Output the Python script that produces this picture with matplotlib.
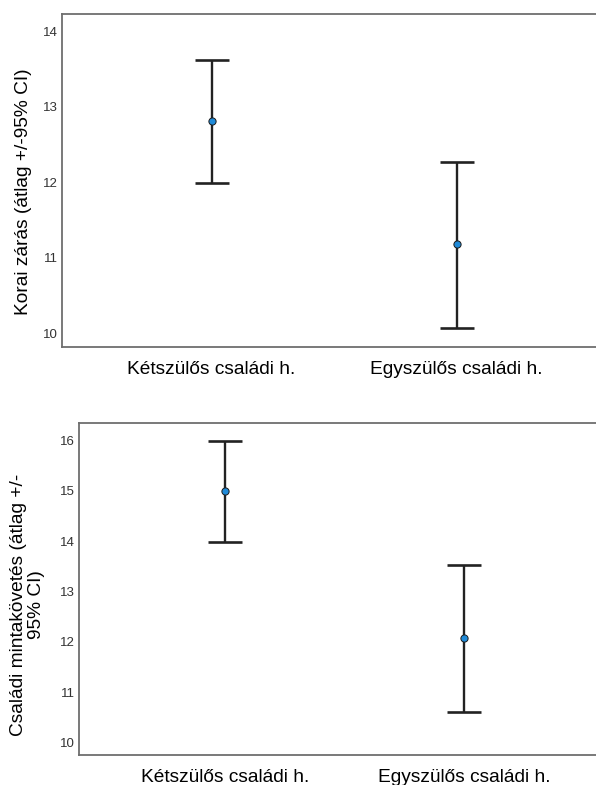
import matplotlib.pyplot as plt

plt.rcParams['font.family'] = ['Liberation Sans', 'DejaVu Sans']

categories = ['Kétszülős családi h.', 'Egyszülős családi h.']

# top panel: Korai zárás
korai_mean = [12.81, 11.18]
korai_low = [11.99, 10.07]
korai_high = [13.62, 12.27]

# bottom panel: Családi mintakövetés
minta_mean = [14.99, 12.08]
minta_low = [13.98, 10.61]
minta_high = [16.00, 13.53]


def draw_panel(ax, mean, low, high, ylim, yticks, ylabel):
    xs = [1, 2]
    yerr = [[m - l for m, l in zip(mean, low)], [h - m for m, h in zip(mean, high)]]
    ax.errorbar(xs, mean, yerr=yerr, fmt='none', ecolor='#222222',
                elinewidth=1.7, capsize=12, capthick=1.9)
    ax.plot(xs, mean, 'o', markersize=5.2, markerfacecolor='#1f8ad8',
            markeredgecolor='#1a1a1a', markeredgewidth=0.7, zorder=5)
    ax.set_xlim(0.39, 2.61)
    ax.set_ylim(*ylim)
    ax.set_yticks(yticks)
    ax.set_yticklabels([str(t) for t in yticks], fontsize=9.5, color='#333333')
    ax.set_xticks(xs)
    ax.set_xticklabels(categories, fontsize=13.8, color='black')
    ax.tick_params(axis='both', length=0)
    ax.tick_params(axis='y', pad=3)
    ax.tick_params(axis='x', pad=10)
    for side in ['top', 'left', 'bottom', 'right']:
        ax.spines[side].set_color('#6e6e6e')
        ax.spines[side].set_linewidth(1.3)
    ax.set_ylabel(ylabel, fontsize=13.8, color='black', linespacing=1.05)


fig = plt.figure(figsize=(5.96, 7.85), dpi=100)

ax1 = fig.add_axes([0.104, 0.558, 0.913, 0.424])
draw_panel(ax1, korai_mean, korai_low, korai_high, (9.815, 14.225),
           [10, 11, 12, 13, 14], 'Korai zárás (átlag +/-95% CI)')
ax1.yaxis.set_label_coords(-0.056, 0.466)

ax2 = fig.add_axes([0.1326, 0.0382, 0.891, 0.423])
draw_panel(ax2, minta_mean, minta_low, minta_high, (9.75, 16.35),
           [10, 11, 12, 13, 14, 15, 16], 'Családi mintakövetés (átlag +/-\n95% CI)')
ax2.yaxis.set_label_coords(-0.064, 0.452)

fig.savefig('out.png', dpi=100)
